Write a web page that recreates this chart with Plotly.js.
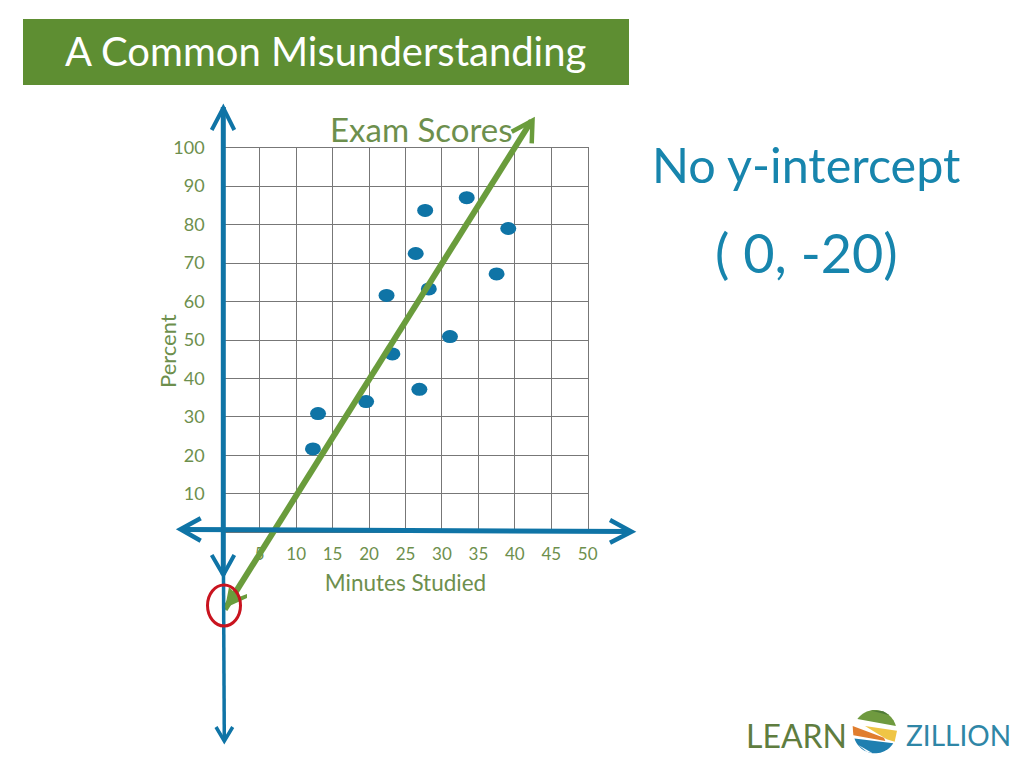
<!DOCTYPE html>
<html>
<head>
<meta charset="utf-8">
<script src="https://cdn.plot.ly/plotly-3.0.1.min.js"></script>
<style>html,body{margin:0;padding:0;background:#fff}#chart{width:1024px;height:768px}</style>
</head>
<body>
<div id="chart"></div>
<script>
// Chart values
const minutes = [33.4, 27.7, 39.1, 26.4, 37.5, 28.2, 22.4, 31.1, 23.2, 26.9, 19.6, 13.0, 12.3];
const percent = [87.0, 83.7, 79.0, 72.5, 67.2, 63.3, 61.6, 50.9, 46.4, 37.2, 34.0, 30.9, 21.7];
const trendX = [0.2, 42.3];
const trendY = [-20, 107];
const xTicks = [5, 10, 15, 20, 25, 30, 35, 40, 45, 50];
const yTicks = [10, 20, 30, 40, 50, 60, 70, 80, 90, 100];

// Page frame
const PW = 1024, PH = 768;
const L = 223.3, T = 147.7, W = 364.4, H = 384.7;
const BLUE = '#0f74a6', GREEN = '#6a9c3c', TXT = '#6d8f4d', GRID = '#777777', FONT = 'Lato, "Open Sans", sans-serif';
const px = x => x / PW;
const py = y => 1 - y / PH;
const pathOf = (pts, close) => pts.map((p, i) => (i ? 'L' : 'M') + px(p[0]).toFixed(5) + ',' + py(p[1]).toFixed(5)).join(' ') + (close ? ' Z' : '');
const stroke = (pts, color, width) => ({type: 'path', xref: 'paper', yref: 'paper', path: pathOf(pts), line: {color, width}, layer: 'above'});
const fill = (pts, color) => ({type: 'path', xref: 'paper', yref: 'paper', path: pathOf(pts, true), fillcolor: color, line: {width: 0}, layer: 'above'});
const box = (x0, y0, x1, y1, o) => Object.assign({type: 'rect', xref: 'paper', yref: 'paper', x0: px(x0), x1: px(x1), y0: py(y0), y1: py(y1), layer: 'above'}, o);
const oval = (cx, cy, rx, ry, o) => Object.assign({type: 'circle', xref: 'paper', yref: 'paper', x0: px(cx - rx), x1: px(cx + rx), y0: py(cy + ry), y1: py(cy - ry), layer: 'above'}, o);
const note = (text, x, y, size, color, extra) => Object.assign({text, xref: 'paper', yref: 'paper', x: px(x), y: py(y), xanchor: 'center', yanchor: 'middle', showarrow: false, font: {family: FONT, size, color}}, extra || {});

// Logo sphere helpers (coordinates from logo crop)
const lg = (x, y) => [730 + x / 3, 700 + y / 3];
const arc = (a, b) => { const o = []; for (let i = 0; i <= 24; i++) { const t = (a + (b - a) * i / 24) * Math.PI / 180; o.push(lg(435 + 65 * Math.cos(t), 95 + 65 * Math.sin(t))); } return o; };

const shapes = [
  box(23, 19, 629, 85, {fillcolor: '#5e8e32', line: {width: 0}}),
  // axes
  stroke([[223.3, 107], [223.3, 575]], BLUE, 5),
  stroke([[211.7, 130], [223.3, 108], [234.3, 130]], BLUE, 4),
  stroke([[211.7, 555], [223.3, 575], [234.3, 555]], BLUE, 4),
  stroke([[223.5, 575], [224.3, 740]], BLUE, 3.5),
  stroke([[216, 727], [224.3, 741], [232.7, 727]], BLUE, 3.5),
  stroke([[181, 529.5], [631, 531.5]], BLUE, 5),
  stroke([[200.7, 518.3], [180.5, 529.3], [200.7, 540.7]], BLUE, 4.5),
  stroke([[610, 520], [631.5, 531.7], [610, 542.7]], BLUE, 4.5),
  // trend arrow heads
  stroke([[511.7, 131.7], [532.5, 120.5], [531.7, 143.3]], GREEN, 4.5),
  fill([[225, 608], [229, 587], [239, 597], [247, 594], [247, 598]], GREEN),
  // red ring
  oval(224, 605.5, 16.5, 20.5, {line: {color: '#c9141f', width: 3}}),
  // logo
  oval(875, 731.7, 21.7, 21.7, {fillcolor: '#ffffff', line: {width: 0}}),
  fill(arc(-144.6, -15.3), '#6f9a3f'),
  fill([lg(420, 31), lg(478, 46), lg(460, 34)], '#4f7a38'),
  fill([lg(368, 78), lg(462, 113), lg(466, 123), lg(370, 106)], '#e07d2e'),
  fill([lg(405, 78), lg(501, 92), lg(494, 125), lg(470, 118)], '#efc545'),
  fill(arc(32.5, 161.6), '#1f7fb0'),
  fill([lg(385, 135), lg(428, 160), lg(410, 155)], '#ffffff'),
  // data ovals, placed on the data scale
  ...minutes.map((m, i) => ({type: 'circle', layer: 'between', xref: 'x', yref: 'y', xsizemode: 'pixel', ysizemode: 'pixel',
    xanchor: m, yanchor: percent[i], x0: -8, x1: 8, y0: -6.5, y1: 6.5, fillcolor: BLUE, line: {width: 0}}))
];

const annotations = [
  note('A Common Misunderstanding', 325, 51, 40, '#ffffff'),
  note('Exam Scores', 421, 129, 33, TXT),
  note('Percent', 167, 351, 22, TXT, {textangle: -90}),
  note('No y-intercept', 806, 164, 48.5, '#1785ad'),
  note('( 0, -20)', 806, 253, 54, '#1785ad'),
  note('LEARN', 796, 735, 32, '#5f7d3f'),
  note('ZILLION', 958, 735, 28, '#2f86a6')
];

const traces = [
  {type: 'scatter', mode: 'markers', name: 'Exam scores', x: minutes, y: percent,
   marker: {color: BLUE, size: 12}},
  {type: 'scatter', mode: 'lines', name: 'Line', x: trendX, y: trendY, xaxis: 'x2', yaxis: 'y2',
   line: {color: GREEN, width: 6}}
];

const unitX = W / 50, unitY = H / 100;
const layout = {
  width: PW, height: PH, showlegend: false, hovermode: false,
  paper_bgcolor: '#ffffff', plot_bgcolor: 'rgba(0,0,0,0)',
  margin: {l: 0, r: 0, t: 0, b: 0, pad: 0},
  xaxis: {domain: [L / PW, (L + W) / PW], range: [0, 50], tickmode: 'array', tickvals: xTicks, ticktext: xTicks.map(String),
    showgrid: true, gridcolor: GRID, gridwidth: 1, zeroline: false, showline: true, mirror: true, linecolor: GRID, linewidth: 1, ticks: '',
    ticklabelstandoff: 6, tickfont: {family: FONT, size: 17, color: TXT},
    title: {text: 'Minutes Studied', standoff: 12, font: {family: FONT, size: 22.5, color: TXT}}},
  yaxis: {domain: [1 - (T + H) / PH, 1 - T / PH], range: [0, 100], tickmode: 'array', tickvals: yTicks, ticktext: yTicks.map(String),
    showgrid: true, gridcolor: GRID, gridwidth: 1, zeroline: false, showline: true, mirror: true, linecolor: GRID, linewidth: 1, ticks: '',
    ticklabelstandoff: 14, tickfont: {family: FONT, size: 18, color: TXT}},
  // full-page overlay axes on the same scale, so the trend line can run past the grid
  xaxis2: {domain: [0, 1], range: [-L / unitX, (PW - L) / unitX], visible: false, anchor: 'y2'},
  yaxis2: {domain: [0, 1], range: [-(PH - T - H) / unitY, (T + H) / unitY], visible: false, anchor: 'x2'},
  shapes, annotations
};

Plotly.newPlot('chart', traces, layout, {displayModeBar: false, staticPlot: true});
</script>
</body>
</html>
